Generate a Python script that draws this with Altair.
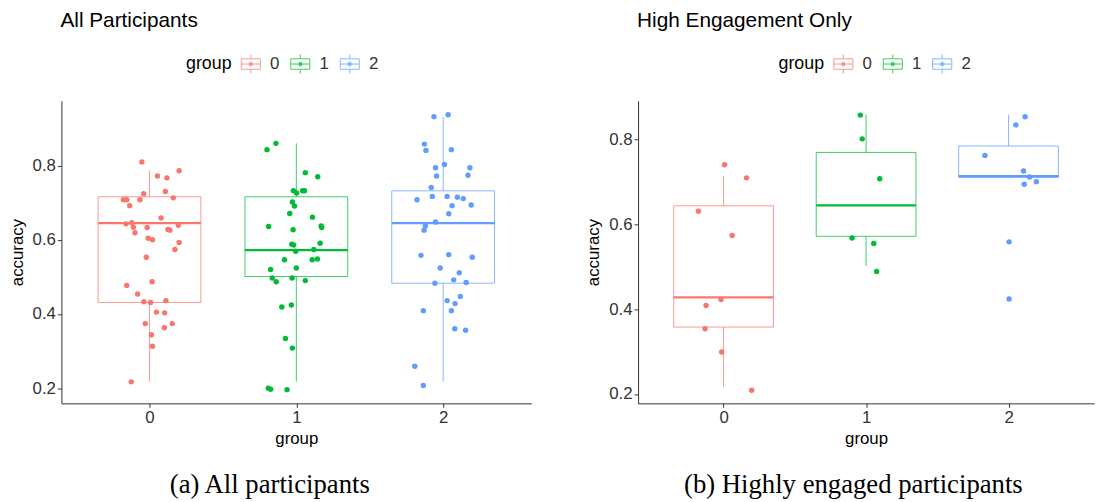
import altair as alt
import pandas as pd

GROUP_LABELS = ["0", "1", "2"]
COLORS = ["#F8766D", "#00BA38", "#619CFF"]

# ---------- All participants: jittered points ----------
all_acc_0 = [0.810, 0.786, 0.772, 0.767, 0.730, 0.724, 0.713, 0.708, 0.708, 0.708,
             0.692, 0.659, 0.643, 0.646, 0.634, 0.619, 0.633, 0.628, 0.626, 0.639,
             0.604, 0.600, 0.593, 0.574, 0.553, 0.487, 0.477, 0.454, 0.433, 0.431,
             0.436, 0.405, 0.403, 0.374, 0.374, 0.363, 0.344, 0.313, 0.217]
all_jit_0 = [-0.052, 0.202, 0.054, 0.119, 0.108, -0.040, 0.162, -0.178, -0.155, -0.065,
             -0.135, 0.079, -0.160, -0.121, -0.110, -0.099, -0.016, 0.126, 0.139, 0.196,
             -0.009, 0.020, 0.202, 0.173, -0.022, 0.018, -0.155, -0.081, -0.038, 0.007,
             0.112, 0.047, 0.103, -0.029, 0.155, 0.101, 0.013, 0.020, -0.124]
all_acc_1 = [0.860, 0.843, 0.781, 0.770, 0.732, 0.726, 0.732, 0.732, 0.702, 0.691,
             0.671, 0.661, 0.636, 0.637, 0.633, 0.627, 0.588, 0.586, 0.591, 0.569,
             0.574, 0.546, 0.546, 0.548, 0.524, 0.520, 0.497, 0.487, 0.497, 0.490,
             0.419, 0.424, 0.334, 0.308, 0.200, 0.197, 0.196]
all_jit_1 = [-0.139, -0.200, 0.061, 0.146, -0.020, 0.002, 0.043, 0.056, -0.027, -0.013,
             -0.045, 0.110, -0.189, 0.169, 0.173, -0.022, -0.031, -0.018, 0.162, -0.004,
             0.119, -0.081, 0.108, 0.144, 0.000, -0.175, -0.164, -0.137, -0.029, 0.061,
             -0.099, -0.034, -0.074, -0.027, -0.191, -0.175, -0.063]
all_acc_2 = [0.932, 0.937, 0.858, 0.841, 0.843, 0.803, 0.794, 0.794, 0.772, 0.774,
             0.741, 0.708, 0.717, 0.717, 0.715, 0.711, 0.692, 0.694, 0.670, 0.648,
             0.637, 0.626, 0.558, 0.560, 0.553, 0.524, 0.511, 0.492, 0.483, 0.485,
             0.447, 0.436, 0.428, 0.409, 0.409, 0.360, 0.356, 0.259, 0.207]
all_jit_2 = [-0.063, 0.034, -0.128, -0.117, 0.056, 0.009, -0.052, 0.182, -0.045, 0.169,
             -0.081, -0.178, -0.074, 0.027, 0.097, 0.137, 0.061, 0.191, 0.038, -0.052,
             -0.121, -0.130, -0.151, 0.038, 0.198, -0.020, 0.110, 0.072, -0.056, 0.157,
             0.117, 0.027, 0.081, -0.135, 0.056, 0.079, 0.153, -0.193, -0.135]

# ---------- All participants: box statistics (group 0, 1, 2) ----------
all_lo = [0.218, 0.218, 0.218]
all_q1 = [0.431, 0.501, 0.483]
all_med = [0.645, 0.572, 0.645]
all_q3 = [0.716, 0.716, 0.732]
all_hi = [0.787, 0.860, 0.931]

# ---------- High engagement only: jittered points ----------
high_acc_0 = [0.741, 0.710, 0.631, 0.574, 0.409, 0.423, 0.354, 0.299, 0.209]
high_jit_0 = [0.007, 0.161, -0.177, 0.060, -0.123, -0.018, -0.130, -0.013, 0.197]
high_acc_1 = [0.858, 0.802, 0.708, 0.568, 0.555, 0.489]
high_jit_1 = [-0.040, -0.027, 0.096, -0.098, 0.054, 0.074]
high_acc_2 = [0.854, 0.835, 0.763, 0.726, 0.712, 0.695, 0.701, 0.559, 0.424]
high_jit_2 = [0.116, 0.051, -0.166, 0.105, 0.148, 0.110, 0.195, 0.004, 0.004]

# ---------- High engagement only: box statistics ----------
high_lo = [0.216, 0.502, 0.711]
high_q1 = [0.358, 0.572, 0.711]
high_med = [0.428, 0.645, 0.714]
high_q3 = [0.644, 0.770, 0.785]
high_hi = [0.714, 0.859, 0.859]

FONT = "Liberation Sans"
# boxplot legend key drawn as separate open strokes so no area gets filled
BOX_KEY = ("M-1,-0.55H1 M1,-0.55V0.55 M1,0.55H-1 M-1,0.55V-0.55 "
           "M0,-1V-0.55 M0,0.55V1 M-1,0H1 "
           "M-0.2,0A0.2,0.2 0 1,0 0.2,0A0.2,0.2 0 1,0 -0.2,0")


def points_frame(accs, jits):
    rows = []
    for g, (a_list, j_list) in enumerate(zip(accs, jits)):
        for a, j in zip(a_list, j_list):
            rows.append({"group": g, "label": GROUP_LABELS[g], "accuracy": a, "jit": j})
    return pd.DataFrame(rows)


def box_frame(lo, q1, med, q3, hi):
    return pd.DataFrame({"group": [0, 1, 2], "label": GROUP_LABELS,
                         "lo": lo, "q1": q1, "med": med, "q3": q3, "hi": hi})


def panel(pts, box, title, width, height, ydom, legend_x):
    xscale = alt.Scale(domain=[-0.6, 2.6], nice=False)
    yscale = alt.Scale(domain=ydom, nice=False, zero=False)
    xaxis = alt.Axis(values=[0, 1, 2], format="d", title="group", grid=False)
    yaxis = alt.Axis(values=[0.2, 0.4, 0.6, 0.8], format=".1f", title="accuracy", grid=False)
    cscale = alt.Scale(domain=GROUP_LABELS, range=COLORS)
    legend = alt.Legend(title="group", orient="none", legendX=legend_x, legendY=-48,
                        direction="horizontal", titleOrient="left",
                        symbolType=BOX_KEY, symbolSize=370, symbolStrokeWidth=1,
                        symbolFillColor="transparent", symbolOpacity=0.75,
                        labelFontSize=17, titleFontSize=18, titleFontWeight="normal",
                        labelFont=FONT, titleFont=FONT, labelColor="#333333",
                        titleColor="#000000", columnPadding=8, labelOffset=9,
                        titlePadding=8)

    bb = alt.Chart(box).transform_calculate(
        xl="datum.group - 0.35", xr="datum.group + 0.35")
    wlo = alt.Chart(box).mark_rule(strokeWidth=1, strokeOpacity=0.75).encode(
        x=alt.X("group:Q", scale=xscale, axis=xaxis),
        y=alt.Y("lo:Q", scale=yscale, axis=yaxis), y2="q1:Q",
        stroke=alt.Stroke("label:N", scale=cscale, legend=legend),
    )
    whi = alt.Chart(box).mark_rule(strokeWidth=1, strokeOpacity=0.75).encode(
        x=alt.X("group:Q", scale=xscale, axis=xaxis),
        y=alt.Y("q3:Q", scale=yscale, axis=yaxis), y2="hi:Q",
        stroke=alt.Stroke("label:N", scale=cscale, legend=legend),
    )
    rect = bb.mark_rect(filled=False, strokeWidth=1, strokeOpacity=0.75).encode(
        x=alt.X("xl:Q", scale=xscale, axis=xaxis),
        x2="xr:Q",
        y=alt.Y("q1:Q", scale=yscale, axis=yaxis),
        y2="q3:Q",
        stroke=alt.Stroke("label:N", scale=cscale, legend=legend),
    )
    med = bb.mark_rule(strokeWidth=2.2).encode(
        x=alt.X("xl:Q", scale=xscale, axis=xaxis), x2="xr:Q",
        y=alt.Y("med:Q", scale=yscale, axis=yaxis),
        stroke=alt.Stroke("label:N", scale=cscale, legend=legend),
    )
    pt = alt.Chart(pts).transform_calculate(x="datum.group + datum.jit").mark_circle(
        size=30, opacity=1).encode(
        x=alt.X("x:Q", scale=xscale, axis=xaxis),
        y=alt.Y("accuracy:Q", scale=yscale, axis=yaxis),
        color=alt.Color("label:N", scale=cscale, legend=None),
    )
    return alt.layer(wlo, whi, rect, med, pt).properties(
        width=width, height=height,
        title=alt.TitleParams(title, anchor="start", frame="group", fontSize=21,
                              fontWeight="normal", font=FONT, color="#000000",
                              offset=70, dx=-1),
    )


left = panel(points_frame([all_acc_0, all_acc_1, all_acc_2], [all_jit_0, all_jit_1, all_jit_2]),
             box_frame(all_lo, all_q1, all_med, all_q3, all_hi),
             "All Participants", 475, 306, [0.159, 0.975], 126)
right = panel(points_frame([high_acc_0, high_acc_1, high_acc_2], [high_jit_0, high_jit_1, high_jit_2]),
              box_frame(high_lo, high_q1, high_med, high_q3, high_hi),
              "High Engagement Only", 461, 306, [0.178, 0.892], 142)

cap_a = alt.vconcat(left).properties(
    title=alt.TitleParams("(a) All participants", orient="bottom", anchor="middle",
                          font="Liberation Serif", fontSize=27, fontWeight="normal",
                          color="#000000", offset=26))
cap_b = alt.vconcat(right).properties(
    title=alt.TitleParams("(b) Highly engaged participants", orient="bottom", anchor="middle",
                          font="Liberation Serif", fontSize=27, fontWeight="normal",
                          color="#000000", offset=26, dx=14))

chart = alt.hconcat(cap_a, cap_b, spacing=54).resolve_scale(
    x="independent", y="independent", color="independent", stroke="independent"
).properties(
    padding={"left": 0, "top": 0, "right": 5, "bottom": 0}
).configure_view(stroke=None).configure_axis(
    labelFont=FONT, titleFont=FONT, labelFontSize=17, titleFontSize=17,
    titleFontWeight="normal", labelColor="#333333", titleColor="#000000",
    domainColor="#333333", tickColor="#333333", domainWidth=1, tickWidth=1,
    tickSize=4, labelPadding=2, titlePadding=6,
).configure_axisY(labelPadding=2, titlePadding=6)

chart.save("out.html", embed_options={"renderer": "svg", "actions": False})
